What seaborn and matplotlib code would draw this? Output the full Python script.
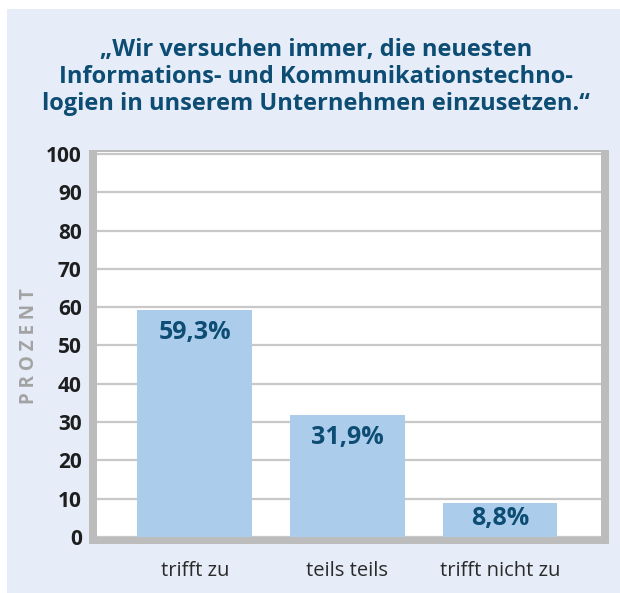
import matplotlib
matplotlib.use("Agg")
import matplotlib.pyplot as plt
from matplotlib.patches import Rectangle
import seaborn as sns
import pandas as pd

categories = ["trifft zu", "teils teils", "trifft nicht zu"]
values = [59.3, 31.9, 8.8]
value_labels = ["59,3%", "31,9%", "8,8%"]
yticks = [0, 10, 20, 30, 40, 50, 60, 70, 80, 90, 100]
title = "\u201eWir versuchen immer, die neuesten\nInformations- und Kommunikationstechno-\nlogien in unserem Unternehmen einzusetzen.\u201c"
ylabel = "PROZENT"

sns.set_theme(style="white")
plt.rcParams["font.family"] = ["Open Sans", "DejaVu Sans"]

W, H = 620, 593
fig = plt.figure(figsize=(W / 100, H / 100), dpi=100)
fig.patch.set_facecolor("white")

def px(x0, y0, x1, y1):
    return (x0 / W, 1 - y1 / H, (x1 - x0) / W, (y1 - y0) / H)

# background panel
l, b, w, h = px(7, 9, 620, 593)
fig.add_artist(Rectangle((l, b), w, h, transform=fig.transFigure,
                         facecolor="#e6edf8", edgecolor="none", zorder=0))
# gray frame
l, b, w, h = px(89, 150, 609, 544)
fig.add_artist(Rectangle((l, b), w, h, transform=fig.transFigure,
                         facecolor="#bcbcbc", edgecolor="none", zorder=0.5))

ax = fig.add_axes(px(97, 152, 601, 537))
ax.set_facecolor("white")
ax.set_zorder(1)

df = pd.DataFrame({"cat": categories, "val": values})
sns.barplot(data=df, x="cat", y="val", color="#abcdeb", saturation=1,
            width=0.75, linewidth=0, edgecolor="none", ax=ax, zorder=3)

ax.set_ylim(0, 100.5)
ax.set_xlim(-0.64, 2.66)
ax.set_yticks(yticks)
ax.set_yticklabels([str(t) for t in yticks], fontsize=15, fontweight="bold",
                   color="#1e1e1e")
ax.set_xticks(range(len(categories)))
ax.set_xticklabels(categories, fontsize=14.5, color="#2a2a2a")
ax.tick_params(axis="y", length=0, pad=11)
ax.tick_params(axis="x", length=0, pad=17)
ax.set_xlabel("")
ax.set_ylabel("")
for s in ax.spines.values():
    s.set_visible(False)
ax.yaxis.grid(True, color="#c8c8c8", linewidth=1.6, zorder=1)
ax.set_axisbelow(True)

for i, (v, lab) in enumerate(zip(values, value_labels)):
    y = max(v - 6, v * 0.55)
    ax.text(i, y, lab, ha="center", va="center", fontsize=18,
            fontweight="bold", color="#0d4d74", zorder=5)

fig.text(29 / W, 1 - 346 / H, " ".join(list(ylabel)),
         rotation=90, ha="center", va="center", fontsize=13.5,
         fontweight="bold", color="#a3a3a3")

fig.text(316 / W, 1 - 77 / H, title, ha="center", va="center",
         fontsize=17, fontweight="bold", color="#0d4d74",
         linespacing=1.15)

fig.savefig("out.png", dpi=100, facecolor="white")
